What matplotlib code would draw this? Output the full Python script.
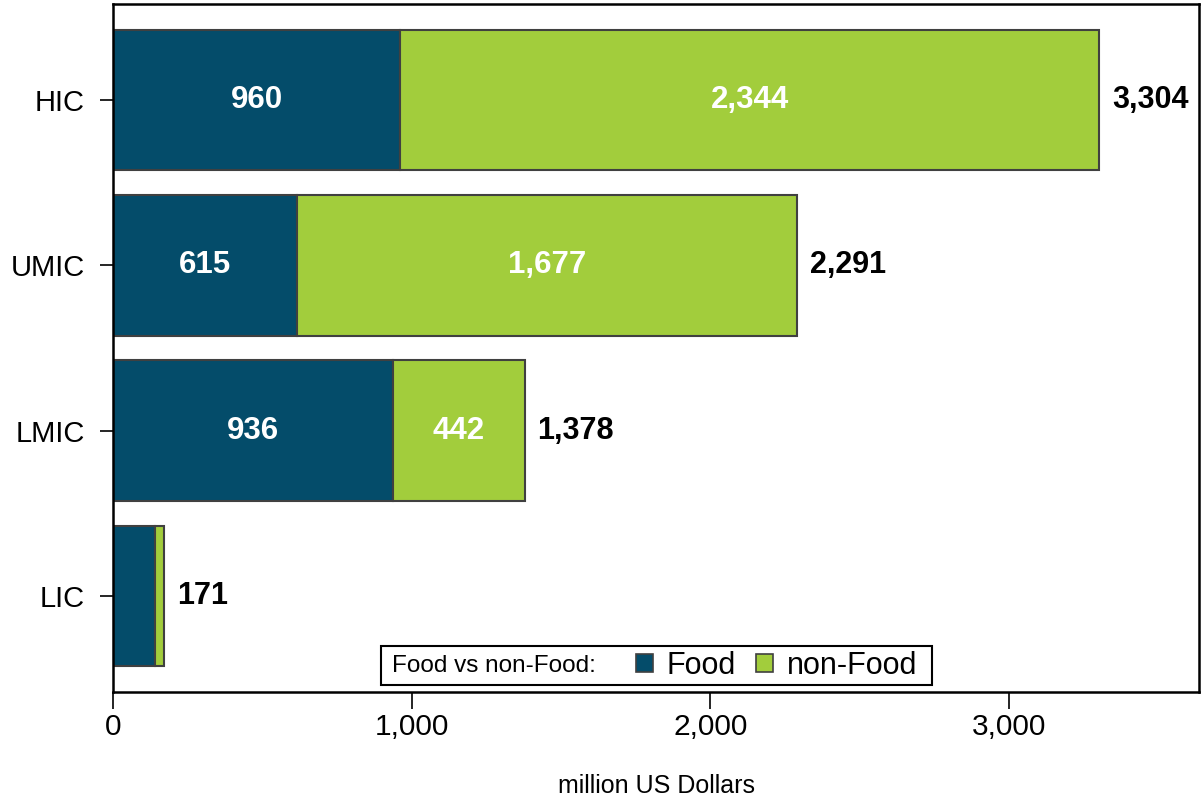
import numpy as np
import matplotlib.pyplot as plt
from matplotlib.patches import Patch
from matplotlib.offsetbox import HPacker, DrawingArea
from matplotlib.ticker import FuncFormatter

plt.rcParams['font.family'] = ['Liberation Sans', 'DejaVu Sans']

# data (million US Dollars)
groups = ['LIC', 'LMIC', 'UMIC', 'HIC']
food = [140, 936, 615, 960]
non_food = [31, 442, 1677, 2344]
totals = [171, 1378, 2291, 3304]
show_parts = [False, True, True, True]

food_col = '#044C6A'
nonfood_col = '#A2CD3C'
edge_col = '#404040'

fig = plt.figure(figsize=(12.04, 8), dpi=100)
ax = fig.add_axes([0.094, 0.135, 0.902, 0.86])

y = np.arange(len(groups))
h = 0.85
ax.barh(y, food, height=h, color=food_col, edgecolor=edge_col, linewidth=1.5)
ax.barh(y, non_food, left=food, height=h, color=nonfood_col, edgecolor=edge_col, linewidth=1.5)

for i in range(len(groups)):
    if show_parts[i]:
        ax.text(food[i] / 2, y[i], f'{food[i]:,}', ha='center', va='center',
                color='white', fontsize=22.5, fontweight='bold')
        ax.text(food[i] + non_food[i] / 2, y[i], f'{non_food[i]:,}', ha='center', va='center',
                color='white', fontsize=22.5, fontweight='bold')
    ax.annotate(f'{totals[i]:,}', (food[i] + non_food[i], y[i]), xytext=(9, 0),
                textcoords='offset points', ha='left', va='center',
                fontsize=22, fontweight='bold', color='black')

ax.set_xlim(0, 3638)
ax.set_ylim(-0.58, 3.58)
ax.set_yticks(y)
ax.set_yticklabels(groups)
ax.set_xticks([0, 1000, 2000, 3000])
ax.xaxis.set_major_formatter(FuncFormatter(lambda v, p: f'{int(v):,}'))
ax.tick_params(axis='x', length=12, width=1.2, pad=3, labelsize=21.5)
ax.tick_params(axis='y', length=9.5, width=1.2, pad=11, labelsize=21)
ax.set_xlabel('million US Dollars', fontsize=18, labelpad=24)
for s in ax.spines.values():
    s.set_linewidth(1.8)

handles = [Patch(facecolor=food_col, edgecolor=edge_col, linewidth=1.2),
           Patch(facecolor=nonfood_col, edgecolor=edge_col, linewidth=1.2)]
leg = ax.legend(handles, ['Food', 'non-Food'], ncol=2, loc='lower center',
                bbox_to_anchor=(0.5, 0.01), fontsize=22, title='Food vs non-Food:',
                title_fontsize=17.5, frameon=True, fancybox=False, framealpha=1,
                edgecolor='black', handlelength=0.55, handleheight=0.55,
                handletextpad=0.45, columnspacing=0.66, borderpad=0.15,
                borderaxespad=0)
leg.get_frame().set_linewidth(1.5)
# put the title on the same line as the entries
fs = leg._fontsize
box = HPacker(pad=leg.borderpad * fs, sep=0, align='center',
              children=[DrawingArea(5, 1), leg._legend_title_box, DrawingArea(29, 1),
                        leg._legend_handle_box, DrawingArea(7, 1)])
box.set_figure(fig)
box.axes = ax
box.set_offset(leg._findoffset)
leg._legend_box = box

fig.savefig('out.png', dpi=100)
